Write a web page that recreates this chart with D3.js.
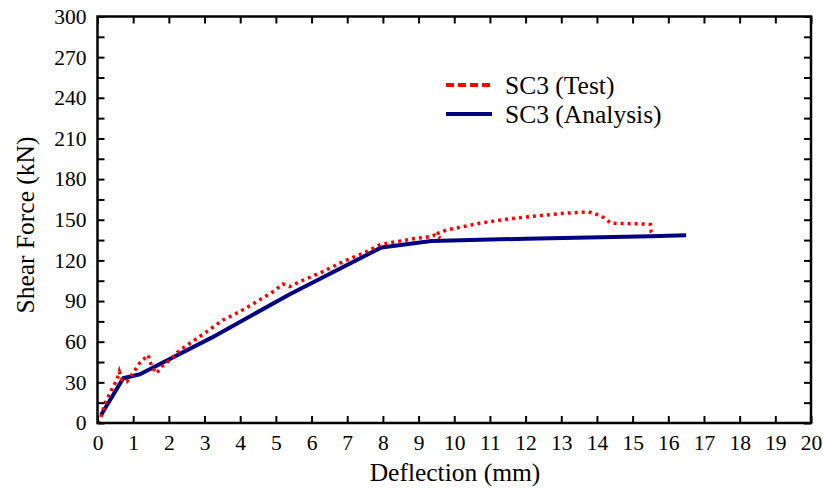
<!DOCTYPE html>
<html><head><meta charset="utf-8">
<script src="https://cdn.jsdelivr.net/npm/d3@7"></script>
<style>body{margin:0;background:#fff}svg{display:block}</style>
</head><body><svg id="c" width="823" height="491"></svg>
<script>
const xTicks = d3.range(0, 21, 1);
const yTicks = d3.range(0, 301, 30);
const yMinor = d3.range(0, 301, 15);
const testX = [0.0,0.07,0.21,0.35,0.44,0.54,0.61,0.68,0.82,0.96,1.05,1.19,1.42,1.52,1.66,1.8,2.03,2.31,2.59,3.06,3.52,3.99,4.46,4.92,5.2,5.39,5.67,6.32,6.88,7.54,7.91,8.19,8.94,9.31,9.45,9.6,9.5,9.78,10.3,10.71,11.2,11.64,12.1,12.58,13.0,13.52,13.75,14.12,14.4,14.8,15.2,15.5,15.52,15.6];
const testY = [0,2.2,14.5,22,26.8,31.7,37.9,31.7,30.5,35.4,39,44.5,50.2,41.5,36.7,41.5,46.5,53.9,58.8,67.4,76,82.2,89.5,96.9,102.6,100.6,104.3,111.7,119,126.4,131.5,133,136.3,137.5,138.7,136.5,139.5,142.4,145.2,147.4,149.3,151,152.3,153.5,154.6,155.5,156,152.8,147.4,147.2,147.0,146.5,141,138.5];
const anaX = [0.1,0.72,1.19,3.2,5.39,7.96,9.36,12.0,15.5,16.5];
const anaY = [5.9,33,36,63,95,129.6,134.3,136.0,137.8,138.5];
const seriesNames = ["SC3 (Test)", "SC3 (Analysis)"];

const FF = "Liberation Serif";
const svg = d3.select("#c");
const L=97.5, R=811, T=16.5, B=423;
const x = d3.scaleLinear().domain([0,20]).range([L,R]);
const y = d3.scaleLinear().domain([0,300]).range([B,T]);

const line = d3.line().x(d=>x(d[0])).y(d=>y(d[1]));
svg.append("clipPath").attr("id","cl").append("rect").attr("x",L).attr("y",T).attr("width",R-L).attr("height",B-T);

const g = svg.append("g").attr("clip-path","url(#cl)");
g.append("path").datum(anaX.map((v,i)=>[v,anaY[i]])).attr("d",line)
 .attr("fill","none").attr("stroke","#000080").attr("stroke-width",4).attr("stroke-linejoin","round");
g.append("path").datum(testX.map((v,i)=>[v,testY[i]])).attr("d",line)
 .attr("fill","none").attr("stroke","#ff0000").attr("stroke-width",3.5).attr("stroke-dasharray","3,4");

const tl = 7;
const ax = svg.append("g");
ax.append("g").attr("transform",`translate(0,${B})`).call(d3.axisBottom(x).tickValues(xTicks).tickSizeInner(-tl).tickSizeOuter(0).tickPadding(12).tickFormat(d3.format("d")));
ax.append("g").attr("transform",`translate(0,${T})`).call(d3.axisTop(x).tickValues(xTicks).tickSizeInner(-tl).tickSizeOuter(0).tickFormat(""));
ax.append("g").attr("transform",`translate(${L},0)`).call(d3.axisLeft(y).tickValues(yMinor).tickSizeInner(-tl).tickSizeOuter(0).tickPadding(11).tickFormat(d=>yTicks.includes(d)?d:""));
ax.append("g").attr("transform",`translate(${R},0)`).call(d3.axisRight(y).tickValues(yMinor).tickSizeInner(-tl).tickSizeOuter(0).tickFormat(""));
ax.selectAll("g").attr("font-family",FF).attr("font-size",21.5);
ax.selectAll(".domain").remove();
ax.selectAll(".tick line").attr("stroke","#000").attr("stroke-width",2);
ax.selectAll(".tick text").attr("font-size",21.5).attr("font-family",FF).attr("fill","#000");
svg.append("rect").attr("x",L).attr("y",T).attr("width",R-L).attr("height",B-T).attr("fill","none").attr("stroke","#000").attr("stroke-width",2.5);

svg.append("text").attr("x",455).attr("y",481).attr("text-anchor","middle").attr("font-family",FF).attr("font-size",25.5).text("Deflection (mm)");
svg.append("text").attr("transform",`translate(34,225) rotate(-90)`).attr("text-anchor","middle").attr("font-family",FF).attr("font-size",25.5).text("Shear Force (kN)");

const lg = svg.append("g");
lg.append("line").attr("x1",446).attr("x2",492).attr("y1",85).attr("y2",85).attr("stroke","#ff0000").attr("stroke-width",4).attr("stroke-dasharray","8,4");
lg.append("line").attr("x1",446).attr("x2",492).attr("y1",114).attr("y2",114).attr("stroke","#000080").attr("stroke-width",4);
lg.append("text").attr("x",505).attr("y",94).attr("font-family",FF).attr("font-size",25.5).text(seriesNames[0]);
lg.append("text").attr("x",505).attr("y",123).attr("font-family",FF).attr("font-size",25.5).text(seriesNames[1]);
</script></body></html>
